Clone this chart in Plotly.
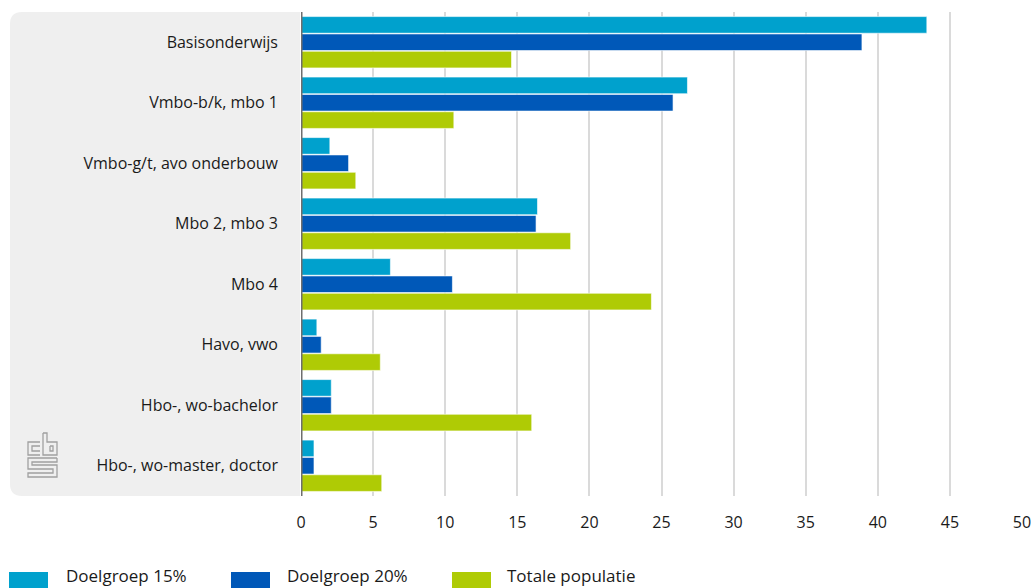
import plotly.graph_objects as go

categories = ["Basisonderwijs", "Vmbo-b/k, mbo 1", "Vmbo-g/t, avo onderbouw", "Mbo 2, mbo 3",
              "Mbo 4", "Havo, vwo", "Hbo-, wo-bachelor", "Hbo-, wo-master, doctor"]
doelgroep15 = [43.4, 26.8, 2.0, 16.4, 6.2, 1.1, 2.1, 0.9]
doelgroep20 = [38.9, 25.8, 3.3, 16.3, 10.5, 1.4, 2.1, 0.9]
totaal = [14.6, 10.6, 3.8, 18.7, 24.3, 5.5, 16.0, 5.6]
series_names = ["Doelgroep 15%", "Doelgroep 20%", "Totale populatie"]
colors = ["#00A1CD", "#0058B8", "#AFCB05"]
x_ticks = [0, 5, 10, 15, 20, 25, 30, 35, 40, 45, 50]

W, H = 1033, 588
PL, PR, PT, PB = 301, 1022, 12, 496
L, T = PL, PT
R, B = W - PR, H - PB
PW, PH = PR - PL, PB - PT

def px(x):
    return (x - PL) / PW

def py(y):
    return (PB - y) / PH

FONT = "Open Sans"
fig = go.Figure()
for name, vals, col in zip(series_names, [doelgroep15, doelgroep20, totaal], colors):
    fig.add_trace(go.Bar(
        y=categories, x=vals, name=name, orientation="h",
        marker=dict(color=col, line=dict(color="rgba(255,255,255,0.6)", width=1)),
        showlegend=False,
    ))

shapes = []
r = 12
x0, x1, y0, y1 = 10, 300, 12, 496
path = (f"M {px(x1)},{py(y0)} L {px(x0 + r)},{py(y0)} "
        f"Q {px(x0)},{py(y0)} {px(x0)},{py(y0 + r)} "
        f"L {px(x0)},{py(y1 - r)} Q {px(x0)},{py(y1)} {px(x0 + r)},{py(y1)} "
        f"L {px(x1)},{py(y1)} Z")
shapes.append(dict(type="path", xref="paper", yref="paper", path=path,
                   fillcolor="#EFEFEF", line=dict(width=0), layer="below"))
shapes.append(dict(type="line", xref="x", yref="paper", x0=0, x1=0, y0=0, y1=1,
                   line=dict(color="#6E6E6E", width=3), layer="above"))

logo_paths = [
    [(40, 442), (28, 442), (28, 455), (40, 455)],
    [(40, 446), (32, 446), (32, 451), (40, 451)],
    [(43, 433), (43, 455), (57, 455), (57, 442), (47, 442), (47, 433), (43, 433)],
    [(50, 446), (53, 446), (53, 451), (50, 451), (50, 446)],
    [(57, 458), (28, 458), (28, 469), (53, 469), (53, 473), (28, 473), (28, 477), (57, 477),
     (57, 465), (32, 465), (32, 462), (57, 462), (57, 458)],
]
for pts in logo_paths:
    d = "M " + " L ".join(f"{px(a)},{py(b)}" for a, b in pts)
    shapes.append(dict(type="path", xref="paper", yref="paper", path=d,
                       line=dict(color="#A0A0A0", width=1.3)))

sw = [(9, 48), (231, 270), (452, 491)]
tx = [65, 286, 506]
annotations = []
for (a, b), t, name, col in zip(sw, tx, series_names, colors):
    shapes.append(dict(type="rect", xref="paper", yref="paper",
                       x0=px(a), x1=px(b), y0=py(588), y1=py(572),
                       fillcolor=col, line=dict(width=0)))
    annotations.append(dict(xref="paper", yref="paper", x=px(t), y=py(588),
                            xanchor="left", yanchor="bottom", text=name, showarrow=False,
                            borderpad=0,
                            font=dict(family=FONT, size=17, color="#1A1A1A")))

fig.update_layout(
    width=W, height=H, autosize=False,
    margin=dict(l=L, r=R, t=T, b=B, pad=0, autoexpand=False),
    paper_bgcolor="white", plot_bgcolor="white",
    barmode="group", bargap=0.14, bargroupgap=0.04,
    shapes=shapes, annotations=annotations,
    font=dict(family=FONT, size=16, color="#1A1A1A"),
    xaxis=dict(range=[0, 50], tickvals=x_ticks, showgrid=True, gridcolor="#DADADA",
               gridwidth=1.5, zeroline=False, showline=False, ticks="", automargin=False,
               ticklabelstandoff=15, tickfont=dict(size=16, color="#1A1A1A")),
    yaxis=dict(autorange="reversed", showgrid=False, zeroline=False, showline=False,
               ticks="", ticklabelstandoff=22, automargin=False,
               tickfont=dict(size=16, color="#1A1A1A")),
)

fig.write_html("out.html", config={"displayModeBar": False},
               post_script="document.body.style.margin='0';document.body.style.overflow='hidden';")
